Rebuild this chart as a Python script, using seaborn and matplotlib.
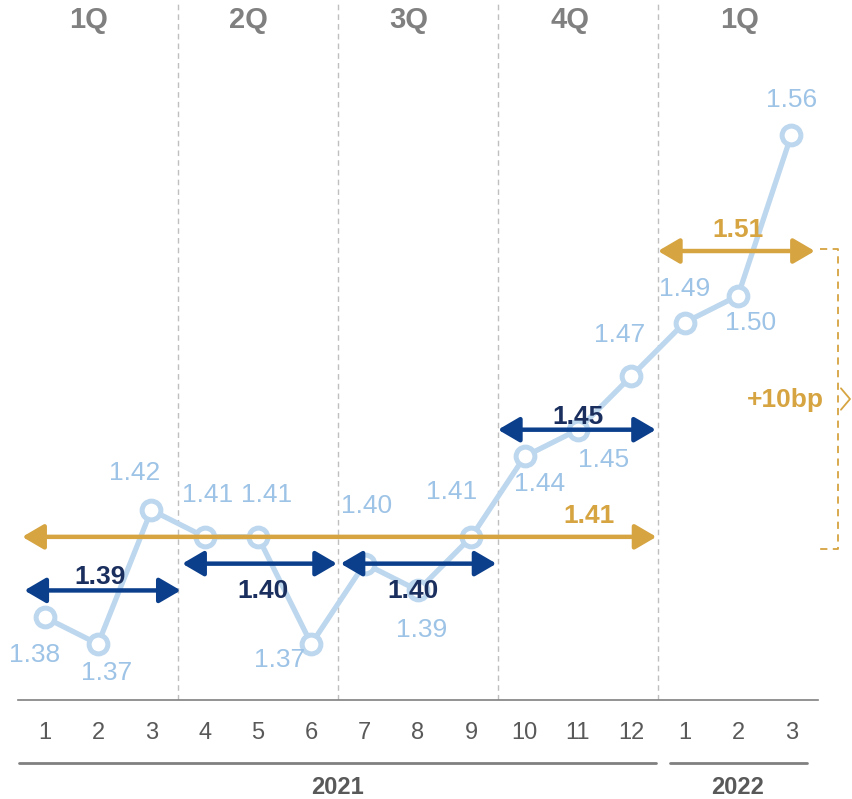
import matplotlib
matplotlib.use("Agg")
import matplotlib.pyplot as plt
import seaborn as sns
import numpy as np
import pandas as pd

# ---- data ----
tick_labels = ["1", "2", "3", "4", "5", "6", "7", "8", "9", "10", "11", "12", "1", "2", "3"]
values = [1.38, 1.37, 1.42, 1.41, 1.41, 1.37, 1.40, 1.39, 1.41, 1.44, 1.45, 1.47, 1.49, 1.50, 1.56]
quarters = ["1Q", "2Q", "3Q", "4Q", "1Q"]
years = ["2021", "2022"]
quarter_avg_labels = ["1.39", "1.40", "1.40", "1.45"]
quarter_avg_values = [1.39, 1.40, 1.40, 1.45]
year_avg_labels = ["1.41", "1.51"]
year_avg_values = [1.41, 1.5167]
diff_label = "+10bp"
diff_range = [1.4055, 1.5174]

# ---- style ----
sns.set_theme(style="white")
plt.rcParams['font.family'] = ['Liberation Sans', 'DejaVu Sans']

LINE = "#BDD7EE"
LBL = "#9DC3E6"
NAVY_ARROW = "#0B3F8C"
NAVY_TXT = "#1B2F5E"
GOLD = "#D6A441"
GRAY = "#808080"

fig = plt.figure(figsize=(8.53, 7.99), dpi=100)
ax = fig.add_axes([18 / 853, 99 / 799, 800 / 853, 700 / 799])

df = pd.DataFrame({"x": np.arange(len(values)), "v": values})
sns.lineplot(data=df, x="x", y="v", ax=ax, color=LINE, lw=3.8, marker="o",
             markersize=13.5, markerfacecolor="white", markeredgecolor=LINE,
             markeredgewidth=3.6, zorder=3)

ax.set_xlim(-0.5, 14.5)
ax.set_ylim(1.3491, 1.6104)

# data labels
offsets = [(-10, -38), (9, -29), (-17, 37), (3, 42), (9, 42), (-32, -16), (2, 58),
           (4, -40), (-20, 45), (15, -28), (26, -30), (-12, 41), (0, 34), (13, -27), (0, 35)]
for i, (v, off) in enumerate(zip(values, offsets)):
    ax.annotate(f"{v:.2f}", (i, v), xytext=off, textcoords="offset pixels",
                ha="center", va="center", fontsize=19, color=LBL, zorder=5)

# dashed quarter separators
for b in [2.5, 5.5, 8.5, 11.5]:
    ax.axvline(b, color="#BFBFBF", lw=1, ls=(0, (4, 3)), zorder=1)

# quarter labels
qpos = [0.83, 3.83, 6.83, 9.85, 13.03]
for q, xp in zip(quarters, qpos):
    ax.text(xp, 1.6104 - 20 / 2679, q, ha="center", va="center", fontsize=21,
            fontweight="bold", color=GRAY)

def darrow(x0, x1, y, color):
    ax.annotate("", xy=(x1, y), xytext=(x0, y),
                arrowprops=dict(arrowstyle="<|-|>,head_length=0.65,head_width=0.38",
                                color=color, lw=3.2, shrinkA=0, shrinkB=0,
                                mutation_scale=20), zorder=4)

# quarter averages
q_spans = [(-0.38, 2.55), (2.58, 5.48), (5.55, 8.47), (8.5, 11.46)]
q_lab_x = [1.03, 4.1, 6.9, 10.0]
q_lab_dy = [13, -27, -27, 13]
for (x0, x1), yv, lab, lx, dy in zip(q_spans, quarter_avg_values, quarter_avg_labels, q_lab_x, q_lab_dy):
    darrow(x0, x1, yv, NAVY_ARROW)
    ax.annotate(lab, (lx, yv), xytext=(0, dy), textcoords="offset pixels", ha="center",
                va="center", fontsize=19, fontweight="bold", color=NAVY_TXT, zorder=6)

# year averages
y_spans = [(-0.42, 11.47), (11.5, 14.44)]
y_lab_x = [10.2, 13.0]
for (x0, x1), yv, lab, lx in zip(y_spans, year_avg_values, year_avg_labels, y_lab_x):
    darrow(x0, x1, yv, GOLD)
    ax.annotate(lab, (lx, yv), xytext=(0, 21), textcoords="offset pixels", ha="center",
                va="center", fontsize=19, fontweight="bold", color=GOLD, zorder=6)

# bracket
lo, hi = diff_range
ax.plot([14.54, 14.88, 14.88, 14.54], [hi, hi, lo, lo], color=GOLD, lw=1.3,
        ls=(0, (4, 3)), clip_on=False)
mid = (lo + hi) / 2
ax.plot([14.93, 15.1, 14.93], [mid + 0.004, mid, mid - 0.004], color=GOLD, lw=1.3,
        clip_on=False)
ax.text(13.88, mid - 0.0005, diff_label, ha="center", va="center", fontsize=19,
        fontweight="bold", color=GOLD)

# axes styling
for s in ["top", "right", "left"]:
    ax.spines[s].set_visible(False)
ax.spines["bottom"].set_color(GRAY)
ax.spines["bottom"].set_linewidth(1.2)
ax.set_yticks([])
ax.set_xticks(np.arange(len(values)))
ax.set_xticklabels(tick_labels, fontsize=17, color="#595959")
ax.set_xticks(np.arange(-0.5, 15, 1), minor=True)
ax.tick_params(axis="x", which="major", length=0, pad=16)
ax.tick_params(axis="x", which="minor", length=8, width=1.2, color=GRAY, direction="out")
ax.set_xlabel("")
ax.set_ylabel("")

# year lines
tr = ax.get_xaxis_transform()
ax.plot([-0.48, 11.47], [-0.09, -0.09], transform=tr, color=GRAY, lw=2.0, clip_on=False)
ax.plot([11.72, 14.3], [-0.09, -0.09], transform=tr, color=GRAY, lw=2.0, clip_on=False)
ax.text(5.5, -87 / 700, years[0], transform=tr, ha="center", va="center", fontsize=17,
        fontweight="bold", color="#595959")
ax.text(13.0, -87 / 700, years[1], transform=tr, ha="center", va="center", fontsize=17,
        fontweight="bold", color="#595959")

fig.savefig("out.png", dpi=100)
